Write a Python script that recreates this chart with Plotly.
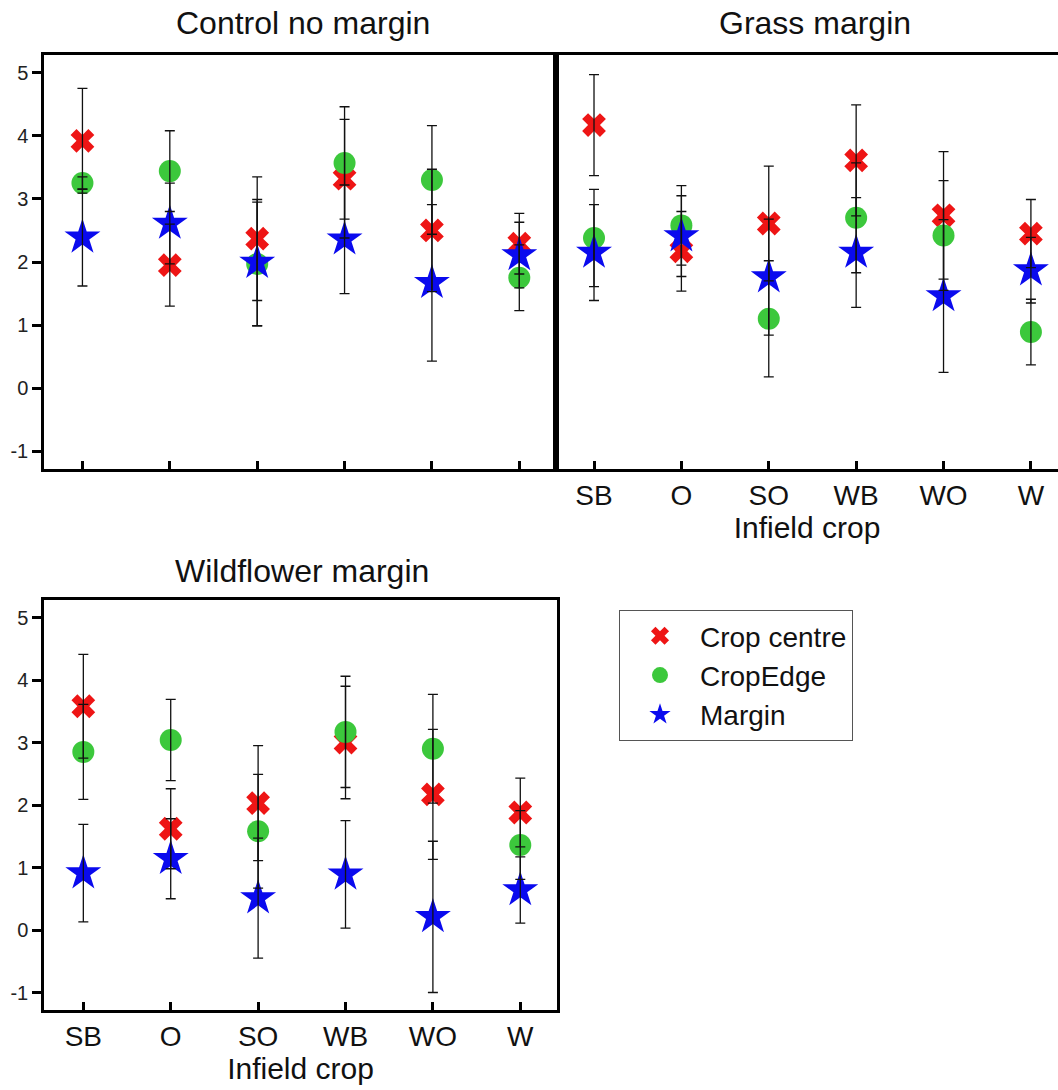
import plotly.graph_objects as go

# ---------------- data ----------------
crops = ["SB", "O", "SO", "WB", "WO", "W"]
series_names = ["Crop centre", "CropEdge", "Margin"]
panel_titles = ["Control no margin", "Grass margin", "Wildflower margin"]

# Control no margin
control_centre = [3.92, 1.95, 2.37, 3.32, 2.50, 2.29]
control_centre_err = [0.83, 0.65, 0.98, 0.94, 0.97, 0.48]
control_edge = [3.25, 3.44, 1.97, 3.57, 3.30, 1.75]
control_edge_err = [0.10, 0.64, 0.98, 0.89, 0.86, 0.52]
control_margin = [2.39, 2.61, 1.99, 2.36, 1.67, 2.11]
control_margin_err = [0.77, 0.64, 1.00, 0.86, 1.24, 0.52]

# Grass margin
grass_centre = [4.17, 2.17, 2.61, 3.61, 2.74, 2.45]
grass_centre_err = [0.80, 0.63, 0.91, 0.88, 1.01, 0.54]
grass_edge = [2.38, 2.58, 1.10, 2.70, 2.42, 0.89]
grass_edge_err = [0.77, 0.63, 0.92, 0.87, 0.87, 0.52]
grass_margin = [2.15, 2.41, 1.76, 2.15, 1.46, 1.87]
grass_margin_err = [0.76, 0.64, 0.92, 0.87, 1.21, 0.52]

# Wildflower margin
wild_centre = [3.58, 1.62, 2.03, 3.00, 2.17, 1.88]
wild_centre_err = [0.83, 0.64, 0.92, 0.90, 1.04, 0.55]
wild_edge = [2.85, 3.04, 1.58, 3.17, 2.90, 1.36]
wild_edge_err = [0.76, 0.65, 0.91, 0.89, 0.87, 0.55]
wild_margin = [0.91, 1.14, 0.51, 0.89, 0.21, 0.64]
wild_margin_err = [0.78, 0.64, 0.96, 0.86, 1.21, 0.53]

y_ticks = [-1, 0, 1, 2, 3, 4, 5]
y_tick_labels = ["-1", "0", "1", "2", "3", "4", "5"]

# ---------------- styling ----------------
FONT = "Liberation Sans, Arial, sans-serif"
W, H = 1058, 1090
ML, MR, MT, MB = 44, 0, 55, 80
PW, PH = W - ML - MR, H - MT - MB

def px_x(x):
    return (x - ML) / PW

def px_y(y):
    return 1 - (y - MT) / PH

styles = [
    dict(symbol="x", size=21, color="#EE1515"),
    dict(symbol="circle", size=22, color="#3CC83C"),
    dict(symbol="star", size=27, color="#0A0AEE"),
]

panels = [
    ("x", "y", [control_centre, control_edge, control_margin],
     [control_centre_err, control_edge_err, control_margin_err]),
    ("x2", "y2", [grass_centre, grass_edge, grass_margin],
     [grass_centre_err, grass_edge_err, grass_margin_err]),
    ("x3", "y3", [wild_centre, wild_edge, wild_margin],
     [wild_centre_err, wild_edge_err, wild_margin_err]),
]

fig = go.Figure()

for pi, (xa, ya, vals, errs) in enumerate(panels):
    for si, (v, st) in enumerate(zip(vals, styles)):
        fig.add_trace(go.Scatter(
            x=crops, y=v, mode="markers", xaxis=xa, yaxis=ya,
            name=series_names[si], showlegend=(pi == 0),
            marker=dict(symbol=st["symbol"], size=st["size"], color=st["color"],
                        line=dict(width=0)),
        ))
    for si, (v, e) in enumerate(zip(vals, errs)):
        fig.add_trace(go.Scatter(
            x=crops, y=v, mode="markers", xaxis=xa, yaxis=ya, showlegend=False,
            hoverinfo="skip",
            marker=dict(size=1, color="rgba(0,0,0,0)"),
            error_y=dict(type="data", array=e, visible=True, color="#111111",
                         thickness=1.3, width=5),
        ))

yr = [-1.28, 5.28]
axis_common = dict(showgrid=False, zeroline=False, showline=True,
                   linecolor="black", linewidth=2.5)

d1 = [px_x(44), px_x(556)]
d2 = [px_x(556), 1.0]
d3 = [px_x(44), px_x(557)]
r1 = [px_y(469), 1.0]
r3 = [0.0, px_y(600)]

ytick_common = dict(range=yr, tickvals=y_ticks, ticktext=y_tick_labels)

fig.update_layout(
    width=W, height=H,
    margin=dict(l=ML, r=MR, t=MT, b=MB),
    paper_bgcolor="white", plot_bgcolor="white",
    font=dict(family=FONT, color="#111111"),
    xaxis=dict(domain=d1, anchor="y", type="category", range=[-0.44, 5.42],
               ticks="inside", ticklen=8, tickwidth=2.5, tickcolor="black",
               showticklabels=False, mirror=True, **axis_common),
    yaxis=dict(domain=r1, anchor="x", **ytick_common,
               ticks="outside", ticklen=9, tickwidth=2.5, tickcolor="black",
               tickfont=dict(size=20, color="#222222"), mirror=True, **axis_common),
    xaxis2=dict(domain=d2, anchor="y2", type="category", range=[-0.435, 5.31],
                ticks="inside", ticklen=8, tickwidth=2.5, tickcolor="black",
                tickfont=dict(size=28, color="#111111"), mirror=True,
                title=dict(text="Infield crop", font=dict(size=30, color="#111111"),
                           standoff=2),
                **axis_common),
    yaxis2=dict(domain=r1, anchor="x2", **ytick_common,
                ticks="", showticklabels=False, mirror=False, **axis_common),
    xaxis3=dict(domain=d3, anchor="y3", type="category", range=[-0.45, 5.42],
                ticks="inside", ticklen=8, tickwidth=2.5, tickcolor="black",
                tickfont=dict(size=28, color="#111111"), mirror=True,
                title=dict(text="Infield crop", font=dict(size=30, color="#111111"),
                           standoff=2),
                **axis_common),
    yaxis3=dict(domain=r3, anchor="x3", **ytick_common,
                ticks="outside", ticklen=9, tickwidth=2.5, tickcolor="black",
                tickfont=dict(size=20, color="#222222"), mirror=True, **axis_common),
    legend=dict(x=px_x(619), y=px_y(610), xanchor="left", yanchor="top",
                bgcolor="white", bordercolor="#555555", borderwidth=1,
                font=dict(size=28, family=FONT, color="#111111"),
                itemwidth=70, tracegroupgap=0),
    showlegend=True,
)

title_pos = [(303, 43), (815, 43), (302, 591)]
for t, (tx, ty) in zip(panel_titles, title_pos):
    fig.add_annotation(text=t, x=px_x(tx), y=px_y(ty), xref="paper", yref="paper",
                       xanchor="center", yanchor="bottom", showarrow=False,
                       font=dict(size=32, family=FONT, color="#111111"))

fig.write_html("out.html")
